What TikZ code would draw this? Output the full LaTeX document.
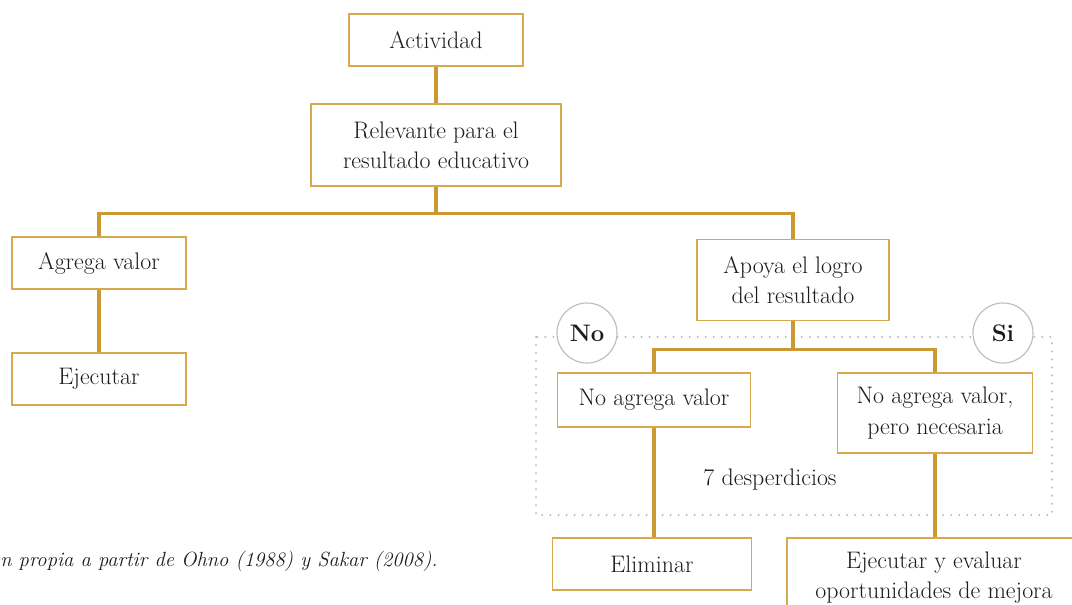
\documentclass[tikz,border=0pt]{standalone}
\usepackage{tikz}
\usepackage{xcolor}
\usetikzlibrary{positioning, calc}
\definecolor{GoldLine}{RGB}{204,152,48}
\definecolor{GoldBox}{RGB}{214,168,80}
\definecolor{TextDark}{RGB}{30,27,28}
\definecolor{GreyDot}{RGB}{188,188,188}

\begin{document}
\begin{tikzpicture}[x=0.025cm,y=-0.025cm,
    font=\fontsize{17}{21.5}\selectfont, text=TextDark,
    box/.style={draw=GoldBox, line width=1.1pt, fill=white, align=center, inner sep=0pt},
    link/.style={draw=GoldLine, line width=2.3pt},
    badge/.style={circle, draw=GreyDot, line width=0.8pt, fill=white, minimum size=1.5cm, inner sep=0pt, font=\fontsize{17}{21}\selectfont\bfseries}]
        \useasboundingbox (0,0) rectangle (1072,605);
        \clip (0,0) rectangle (1072,605);
        % zona de los desperdicios
        \draw[GreyDot, line width=1.6pt, line cap=round, dash pattern=on 0pt off 5.7pt] (536,337) rectangle (1052,515);
        % cajas
        \node[box, minimum width=4.35cm, minimum height=1.3cm] (act) at (436,40) {Actividad};
        \node[box, minimum width=6.25cm, minimum height=2.05cm] (rel) at (436,145) {Relevante para el\\resultado educativo};
        \node[box, minimum width=4.35cm, minimum height=1.3cm] (agr) at (99,263) {Agrega valor};
        \node[box, minimum width=4.35cm, minimum height=1.3cm] (eje) at (99,379) {Ejecutar};
        \node[box, minimum width=4.8cm, minimum height=2.03cm] (apo) at (793,280) {Apoya el logro\\del resultado};
        \node[box, minimum width=4.83cm, minimum height=1.35cm] (nav) at (654,400) {No agrega valor};
        \node[box, minimum width=4.88cm, minimum height=2cm] (nec) at (935,413) {No agrega valor,\\pero necesaria};
        \node[box, minimum width=4.98cm, minimum height=1.3cm] (eli) at (652,564) {Eliminar};
        \node[box, minimum width=7.35cm, minimum height=2cm] (eva) at (934,578) {Ejecutar y evaluar\\oportunidades de mejora};
        \node (des) at (770,480) {7 desperdicios};
        \node[badge] (no) at (587,333) {No};
        \node[badge] (si) at (1003,333) {Si};
        \node[anchor=west, inner sep=0pt, font=\fontsize{14.6}{18}\selectfont\itshape] (src) at (0,561)
          {n propia a partir de Ohno (1988) y Sakar (2008).};
        % conectores
        \draw[link] (act) -- (rel);
        \draw[link] (rel.south) -- ++(0,27) -| (agr.north);
        \draw[link] (rel.south) -- ++(0,27) -| (apo.north);
        \draw[link] (agr) -- (eje);
        \draw[link] (apo.south) -- ++(0,28) -| (nav.north);
        \draw[link] (apo.south) -- ++(0,28) -| (nec.north);
        \draw[link] (nav.south) -- (nav.south |- eli.north);
        \draw[link] (nec.south) -- (nec.south |- eva.north);
\end{tikzpicture}
\end{document}
